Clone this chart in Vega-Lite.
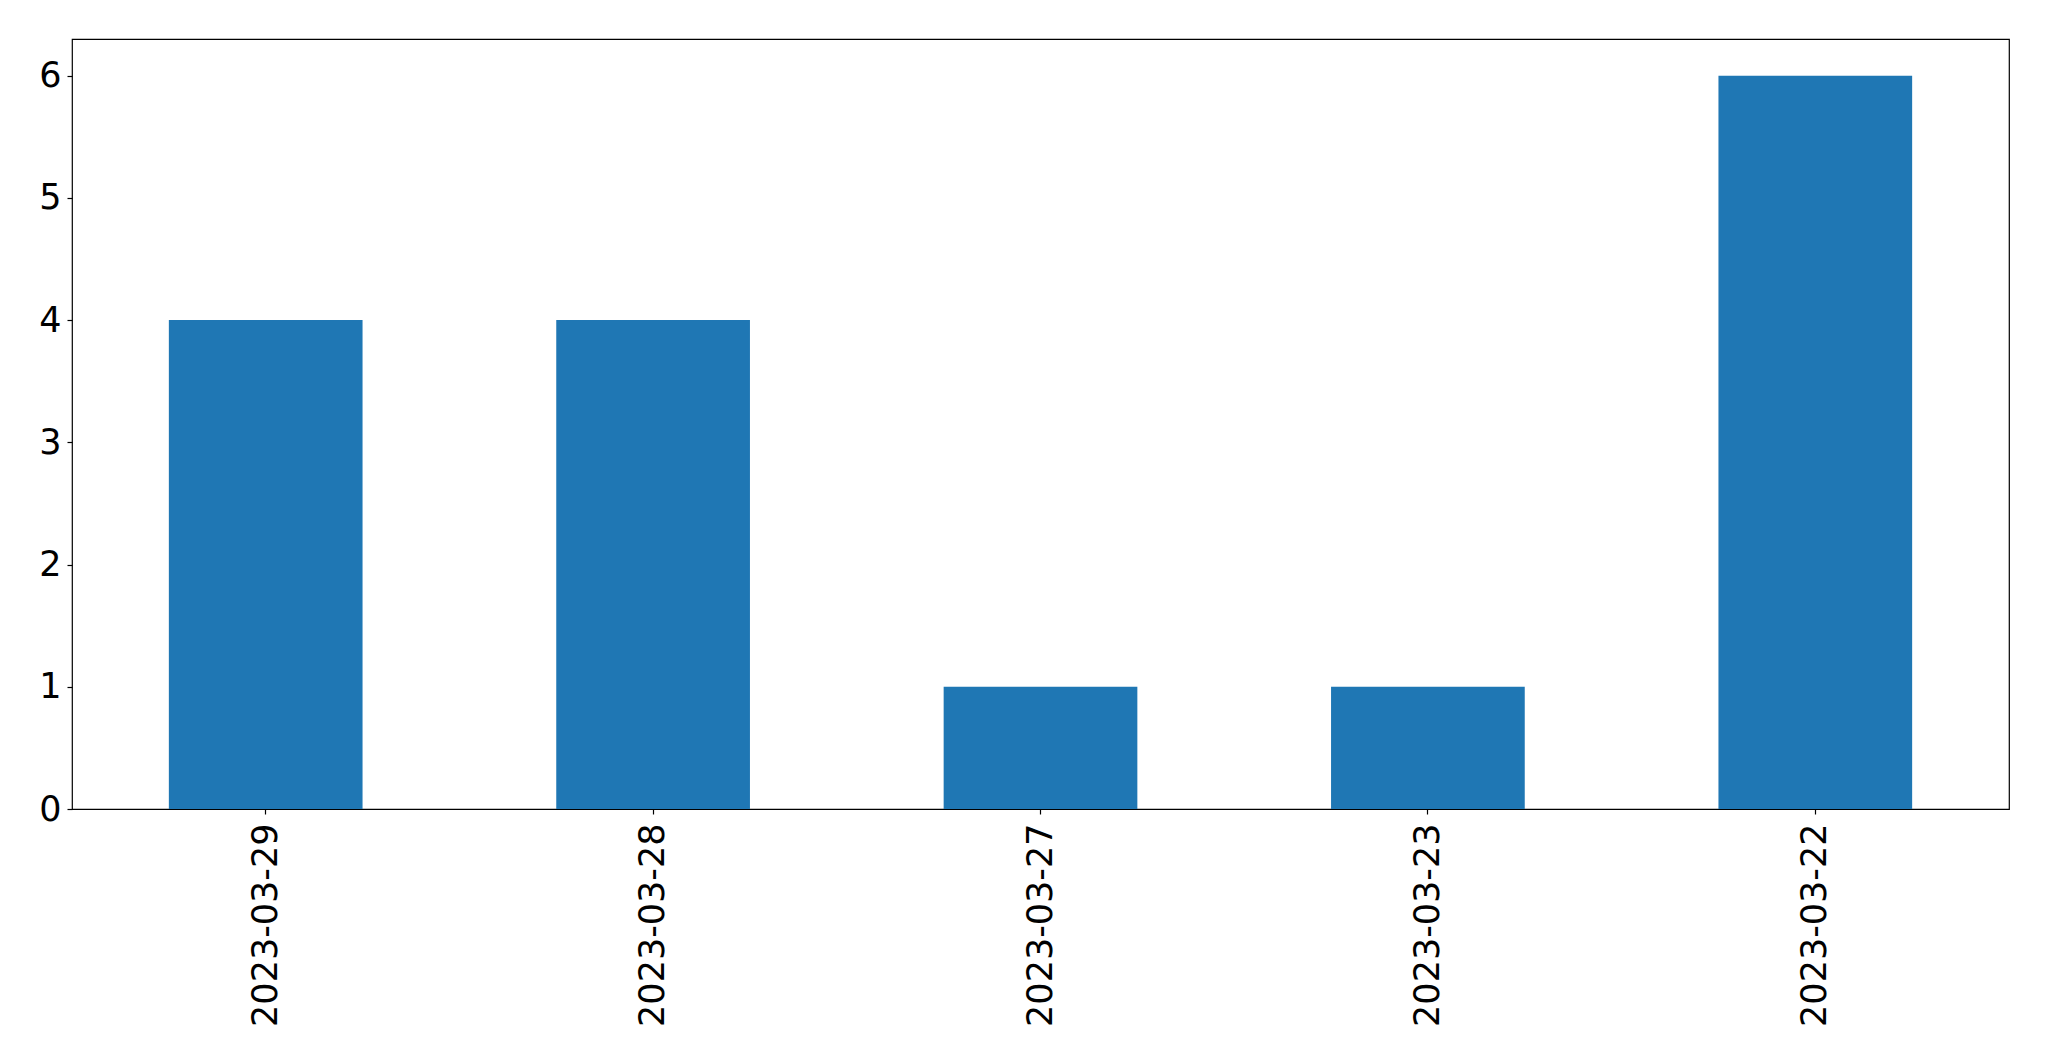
{
  "$schema": "https://vega.github.io/schema/vega-lite/v6.json",
  "autosize": {"type": "none"},
  "padding": {"left": 72, "top": 39, "right": 40, "bottom": 252},
  "width": 1937,
  "height": 770,
  "background": "white",
  "config": {
    "view": {"stroke": "black", "strokeWidth": 1.2},
    "font": "DejaVu Sans",
    "axis": {
      "grid": false,
      "domain": false,
      "tickColor": "black",
      "tickSize": 5,
      "tickWidth": 1.2,
      "labelFont": "DejaVu Sans",
      "labelFontSize": 35,
      "labelLimit": 0,
      "labelColor": "black",
      "title": null
    }
  },
  "data": {
    "values": [
      {"date": "2023-03-29", "count": 4},
      {"date": "2023-03-28", "count": 4},
      {"date": "2023-03-27", "count": 1},
      {"date": "2023-03-23", "count": 1},
      {"date": "2023-03-22", "count": 6}
    ]
  },
  "mark": {"type": "bar", "color": "#1f77b4"},
  "encoding": {
    "x": {
      "field": "date",
      "type": "nominal",
      "sort": null,
      "scale": {"paddingInner": 0.5, "paddingOuter": 0.25},
      "axis": {"labelAngle": -90, "labelPadding": 9}
    },
    "y": {
      "field": "count",
      "type": "quantitative",
      "scale": {"domain": [0, 6.3], "nice": false, "zero": true},
      "axis": {"values": [0, 1, 2, 3, 4, 5, 6], "labelPadding": 6}
    }
  }
}
